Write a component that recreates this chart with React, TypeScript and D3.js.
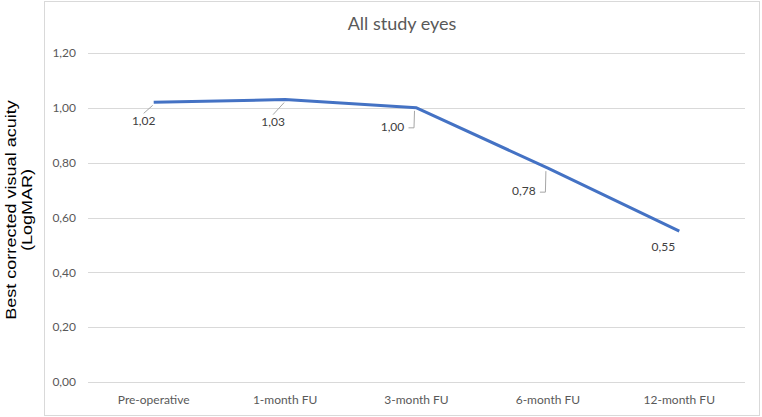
import React, { useEffect, useRef } from "react";
import { select, scaleLinear, scalePoint, line } from "d3";

const categories = [
  "Pre-operative",
  "1-month FU",
  "3-month FU",
  "6-month FU",
  "12-month FU",
];
const bcva = [1.02, 1.03, 1.0, 0.78, 0.55];
const yTicks = [0, 0.2, 0.4, 0.6, 0.8, 1.0, 1.2];

const fmt = (v: number) => v.toFixed(2).replace(".", ",");

// label offsets (dx, dy) from each point, plus leader style
const labelPlacement = [
  { dx: -10, dy: 18, leader: "diag" },
  { dx: -12, dy: 22, leader: "diag" },
  { dx: -24, dy: 19, leader: "elbow" },
  { dx: -24, dy: 23, leader: "elbow" },
  { dx: -16, dy: 16, leader: "none" },
];

const WIDTH = 762;
const HEIGHT = 417;

const App: React.FC = () => {
  const svgRef = useRef<SVGSVGElement | null>(null);

  useEffect(() => {
    const svg = select(svgRef.current);
    svg.selectAll("*").remove();

    const left = 88;
    const right = 745;
    const top = 53;
    const bottom = 382;
    const font = "Lato, 'Open Sans', sans-serif";

    const step = (right - left) / categories.length;
    const xScale = scalePoint<string>()
      .domain(categories)
      .range([left + step / 2, right - step / 2]);
    const yScale = scaleLinear().domain([0, 1.2]).range([bottom, top]);

    // chart frame
    svg
      .append("rect")
      .attr("x", 44.5)
      .attr("y", 1.5)
      .attr("width", 715)
      .attr("height", 414)
      .attr("fill", "#fff")
      .attr("stroke", "#d9d9d9");

    svg
      .append("text")
      .attr("x", 402)
      .attr("y", 30)
      .attr("text-anchor", "middle")
      .attr("font-family", font)
      .attr("font-size", 18)
      .attr("fill", "#595959")
      .text("All study eyes");

    const grid = svg.append("g");
    grid
      .selectAll("line")
      .data(yTicks)
      .join("line")
      .attr("x1", left)
      .attr("x2", right)
      .attr("y1", (d) => Math.round(yScale(d)) + 0.5)
      .attr("y2", (d) => Math.round(yScale(d)) + 0.5)
      .attr("stroke", "#d9d9d9")
      .attr("stroke-width", 1);

    grid
      .selectAll("text")
      .data(yTicks)
      .join("text")
      .attr("x", 76)
      .attr("y", (d) => yScale(d))
      .attr("dy", "0.35em")
      .attr("text-anchor", "end")
      .attr("font-family", font)
      .attr("font-size", 12)
      .attr("fill", "#595959")
      .text((d) => fmt(d));

    svg
      .append("g")
      .selectAll("text")
      .data(categories)
      .join("text")
      .attr("x", (d) => xScale(d)!)
      .attr("y", 400)
      .attr("dy", "0.35em")
      .attr("text-anchor", "middle")
      .attr("font-family", font)
      .attr("font-size", 12)
      .attr("fill", "#595959")
      .text((d) => d);

    // axis title, stretched along its length
    const yTitle = svg
      .append("text")
      .attr("transform", "translate(0,210) rotate(-90) scale(1.29,1)")
      .attr("text-anchor", "middle")
      .attr("font-family", "'Liberation Sans', Arial, sans-serif")
      .attr("font-size", 14)
      .attr("fill", "#000");
    yTitle.append("tspan").attr("x", 0).attr("y", 16).text("Best corrected visual acuity");
    yTitle.append("tspan").attr("x", 0).attr("y", 32).text("(LogMAR)");

    const pts = bcva.map((v, i) => [xScale(categories[i])!, yScale(v)] as [number, number]);

    svg
      .append("path")
      .datum(pts)
      .attr("fill", "none")
      .attr("stroke", "#4472c4")
      .attr("stroke-width", 3)
      .attr("stroke-linejoin", "round")
      .attr("d", line());

    const labels = svg.append("g");
    pts.forEach(([x, y], i) => {
      const p = labelPlacement[i];
      const lx = x + p.dx;
      const ly = y + p.dy;
      if (p.leader === "diag") {
        labels
          .append("line")
          .attr("x1", lx)
          .attr("y1", ly - 7)
          .attr("x2", x - 1)
          .attr("y2", y + 3)
          .attr("stroke", "#a6a6a6")
          .attr("stroke-width", 1);
      } else if (p.leader === "elbow") {
        labels
          .append("path")
          .attr("d", `M${x - 2},${y + 3} L${x - 2.5},${ly + 1} L${lx + 16},${ly + 1}`)
          .attr("fill", "none")
          .attr("stroke", "#a6a6a6")
          .attr("stroke-width", 1);
      }
      labels
        .append("text")
        .attr("x", lx)
        .attr("y", ly)
        .attr("dy", "0.35em")
        .attr("text-anchor", "middle")
        .attr("font-family", font)
        .attr("font-size", 12)
        .attr("fill", "#404040")
        .text(fmt(bcva[i]));
    });
  }, []);

  return (
    <div>
      <svg ref={svgRef} width={WIDTH} height={HEIGHT} style={{ position: "absolute", left: 0, top: 0 }}></svg>
    </div>
  );
};

export default App;
